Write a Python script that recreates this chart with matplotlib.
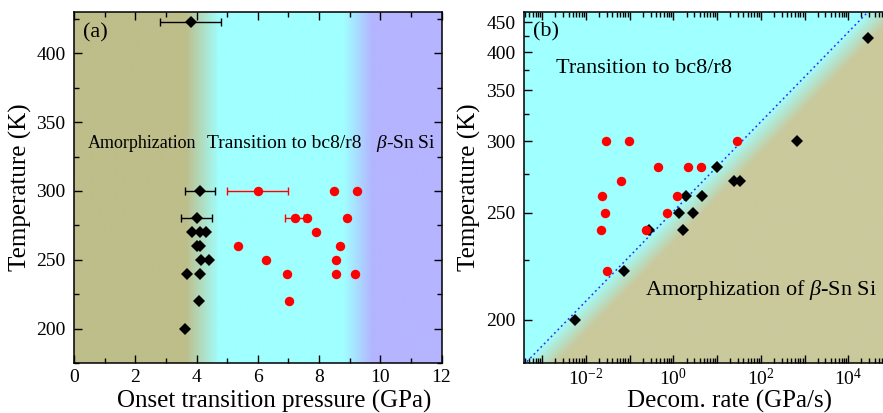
import numpy as np
import matplotlib
matplotlib.use("Agg")
import matplotlib.pyplot as plt
from matplotlib.ticker import FixedLocator, MultipleLocator, LogLocator, FuncFormatter, NullFormatter

plt.rcParams['font.family'] = 'Liberation Serif'
plt.rcParams['mathtext.fontset'] = 'custom'
plt.rcParams['mathtext.rm'] = 'Liberation Serif'
plt.rcParams['mathtext.it'] = 'Liberation Serif:italic'
plt.rcParams['mathtext.bf'] = 'Liberation Serif:bold'

# ---- panel (a): onset transition pressure (GPa) vs temperature (K)
amor_p = [3.81, 4.12, 4.0, 3.86, 4.1, 4.31, 4.0, 4.1, 4.14, 4.41, 3.68, 4.13, 4.07, 3.63]
amor_T = [423, 300, 280, 270, 270, 270, 260, 260, 250, 250, 240, 240, 220, 200]
amor_err_p = [3.81, 4.12, 4.0]
amor_err_T = [423, 300, 280]
amor_err = [1.0, 0.5, 0.52]

bc8_p = [6.0, 8.5, 9.25, 7.2, 7.6, 8.9, 7.9, 5.37, 8.67, 6.27, 8.57, 6.96, 8.54, 9.17, 7.02]
bc8_T = [300, 300, 300, 280, 280, 280, 270, 260, 260, 250, 250, 240, 240, 240, 220]
bc8_err_p = [6.0, 7.2]
bc8_err_T = [300, 280]
bc8_err = [1.0, 0.3]

# ---- panel (b): decompression rate (GPa/s) vs temperature (K)
amor_rate = [2.9e4, 660, 9.8, 24.5, 33, 1.94, 4.5, 1.32, 2.85, 0.27, 1.66, 0.076, 0.0056]
amor_rate_T = [423, 300, 280, 270, 270, 260, 260, 250, 250, 240, 240, 220, 200]
bc8_rate = [0.029, 0.096, 28.5, 0.45, 2.19, 4.2, 0.063, 0.023, 1.19, 0.027, 0.70, 0.022, 0.23, 0.031]
bc8_rate_T = [300, 300, 300, 280, 280, 280, 270, 260, 260, 250, 250, 240, 240, 220]

# boundary line: log10(rate) = A - B/T
A_line = 9.52
B_line = 2387.0

olive_a = np.array([190, 190, 138]) / 255
olive_b = np.array([201, 201, 156]) / 255
cyan = np.array([160, 255, 255]) / 255
lav = np.array([180, 180, 255]) / 255

W, H = 883, 413
fig = plt.figure(figsize=(W / 100, H / 100), dpi=100)

# ================= panel (a)
ax1 = fig.add_axes([74 / W, 1 - 363 / H, 367.5 / W, 351 / H])
xs = np.linspace(0, 12, 1200)
t1 = np.clip((xs - 3.65) / (4.75 - 3.65), 0, 1)[:, None]
t2 = np.clip((xs - 8.8) / (9.75 - 8.8), 0, 1)[:, None]
bg = olive_a * (1 - t1) + cyan * t1
bg = bg * (1 - t2) + lav * t2
ax1.imshow(bg[None, :, :], extent=[0, 12, 175, 430], aspect='auto', zorder=0)

ax1.errorbar(amor_err_p, amor_err_T, xerr=amor_err, fmt='none', ecolor='black',
             elinewidth=1.0, capsize=3, capthick=1.0, zorder=2)
ax1.errorbar(bc8_err_p, bc8_err_T, xerr=bc8_err, fmt='none', ecolor='red',
             elinewidth=1.0, capsize=3, capthick=1.0, zorder=2)
ax1.plot(amor_p, amor_T, 'D', color='black', ms=5.8, mew=0, zorder=3)
ax1.plot(bc8_p, bc8_T, 'o', color='red', ms=6.8, mew=0, zorder=3)

ax1.set_xlim(0, 12)
ax1.set_ylim(175, 430)
ax1.xaxis.set_major_locator(MultipleLocator(2))
ax1.xaxis.set_minor_locator(MultipleLocator(1))
ax1.yaxis.set_major_locator(MultipleLocator(50))
ax1.yaxis.set_minor_locator(MultipleLocator(25))

ax1.text(0.0245, 0.94, '(a)', transform=ax1.transAxes, fontsize=16, va='center')
ax1.text(0.038, 0.626, 'Amorphization', transform=ax1.transAxes, fontsize=13, va='center')
ax1.text(0.362, 0.626, 'Transition to bc8/r8', transform=ax1.transAxes, fontsize=14, va='center')
ax1.text(0.822, 0.626, r'$\beta$-Sn Si', transform=ax1.transAxes, fontsize=14, va='center')

ax1.set_xlabel('Onset transition pressure (GPa)', fontsize=18)
ax1.set_ylabel('Temperature (K)', fontsize=18)
ax1.xaxis.set_label_coords(0.544, -0.077)
ax1.yaxis.set_label_coords(-0.114, 0.5)

# ================= panel (b)
ax2 = fig.add_axes([524 / W, 1 - 362.7 / H, 411.7 / W, 350.7 / H])
ax2.set_xscale('log')
ax2.set_yscale('function', functions=(lambda T: -1.0 / np.asarray(T, dtype=float),
                                      lambda u: -1.0 / np.asarray(u, dtype=float)))
xl0, xl1 = -3.418, 6.0
T_lo, T_hi = 185.1, 470.7

fx = np.linspace(0, 1, 600)
fy = np.linspace(0, 1, 600)
lx = xl0 + fx * (xl1 - xl0)
u = -1 / T_lo + fy * (-1 / T_hi + 1 / T_lo)
d = lx[None, :] - (A_line + B_line * u[:, None])
t = np.clip((d + 0.05) / 0.75, 0, 1)[:, :, None]
bg2 = cyan * (1 - t) + olive_b * t
ax2.imshow(bg2, extent=[0, 1, 0, 1], transform=ax2.transAxes, origin='lower',
           aspect='auto', zorder=0)

T_line = np.linspace(180, 480, 200)
ax2.plot(10 ** (A_line - B_line / T_line), T_line, color='#2b2bff', lw=1.1,
         ls=(0, (1.2, 2.0)), zorder=2)
ax2.plot(amor_rate, amor_rate_T, 'D', color='black', ms=5.8, mew=0, zorder=3)
ax2.plot(bc8_rate, bc8_rate_T, 'o', color='red', ms=6.8, mew=0, zorder=4)


def rate_label(v, pos):
    e = int(round(np.log10(v)))
    if e % 2 == 0 and e <= 4:
        return r'$10^{%d}$' % e
    return ''


ax2.set_xlim(10 ** xl0, 10 ** xl1)
ax2.set_ylim(T_lo, T_hi)
ax2.xaxis.set_major_locator(LogLocator(base=10, numticks=20))
ax2.xaxis.set_minor_locator(LogLocator(base=10, subs=np.arange(2, 10), numticks=20))
ax2.xaxis.set_major_formatter(FuncFormatter(rate_label))
ax2.xaxis.set_minor_formatter(NullFormatter())
ax2.yaxis.set_major_locator(FixedLocator([200, 250, 300, 350, 400, 450]))
ax2.yaxis.set_minor_locator(FixedLocator([225, 275, 325, 375, 425]))
ax2.yaxis.set_major_formatter(FuncFormatter(lambda v, p: '%d' % round(v)))
ax2.yaxis.set_minor_formatter(NullFormatter())

ax2.text(0.022, 0.943, '(b)', transform=ax2.transAxes, fontsize=16, va='center')
ax2.text(0.078, 0.840, 'Transition to bc8/r8', transform=ax2.transAxes, fontsize=16, va='center')
ax2.text(0.294, 0.206, r'Amorphization of $\beta$-Sn Si', transform=ax2.transAxes,
         fontsize=16, va='center')

ax2.set_xlabel('Decom. rate (GPa/s)', fontsize=18)
ax2.set_ylabel('Temperature (K)', fontsize=18)
ax2.xaxis.set_label_coords(0.498, -0.077)
ax2.yaxis.set_label_coords(-0.104, 0.5)

for ax in (ax1, ax2):
    for s in ax.spines.values():
        s.set_linewidth(1.1)
    ax.tick_params(which='both', direction='in', top=True, right=True, labelsize=14, width=1.0)
    ax.tick_params(which='major', length=6)
    ax.tick_params(which='minor', length=3.5)
    ax.tick_params(axis='y', which='major', pad=6)
    ax.tick_params(axis='x', which='major', pad=4)

fig.savefig('out.png', dpi=100)
